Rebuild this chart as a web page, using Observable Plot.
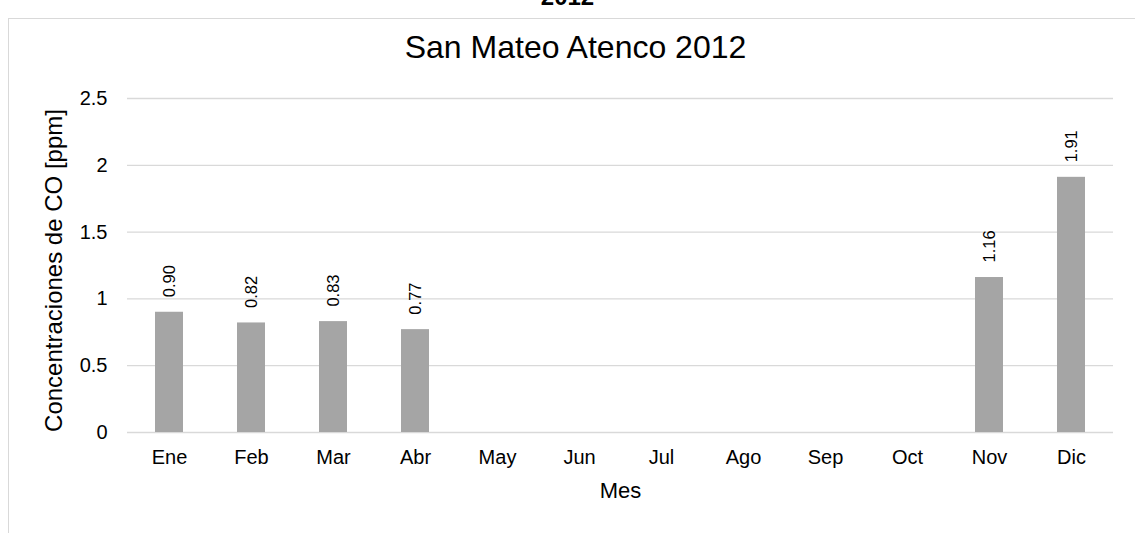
<!DOCTYPE html>
<html>
<head>
<meta charset="utf-8">
<script src="https://cdn.jsdelivr.net/npm/d3@7"></script>
<script src="https://cdn.jsdelivr.net/npm/@observablehq/plot@0.6"></script>
<style>
  html, body { margin: 0; padding: 0; background: #fff; overflow: hidden; }
  body { width: 1135px; height: 533px; position: relative; font-family: "Liberation Sans", Arial, sans-serif; }
  #frame { position: absolute; left: 8px; top: 18px; width: 1200px; height: 600px; border-left: 1px solid #d9d9d9; border-top: 1px solid #d9d9d9; }
  #cut { position: absolute; left: 0; width: 1135px; top: -17px; line-height: normal; text-align: center; font-weight: bold; font-size: 24px; color: #000; }
  #chart { position: absolute; left: 0; top: 0; }
</style>
</head>
<body>
<div id="cut">2012</div>
<div id="frame"></div>
<div id="chart"></div>
<script>
const months = ["Ene","Feb","Mar","Abr","May","Jun","Jul","Ago","Sep","Oct","Nov","Dic"];
const values = [0.90, 0.82, 0.83, 0.77, null, null, null, null, null, null, 1.16, 1.91];
const yTicks = [0, 0.5, 1, 1.5, 2, 2.5];
const titleText = "San Mateo Atenco 2012";
const xLabel = "Mes";
const yLabel = "Concentraciones de CO [ppm]";

const data = months.map((m, i) => ({month: m, value: values[i]})).filter(d => d.value != null);

const chart = Plot.plot({
  width: 1135,
  height: 533,
  marginLeft: 127,
  marginRight: 22,
  marginTop: 98,
  marginBottom: 101,
  style: {fontFamily: "'Liberation Sans', Arial, sans-serif", fontSize: "20px", color: "#000", background: "transparent"},
  x: {domain: months, paddingInner: 0.66, paddingOuter: 0.33, label: null},
  y: {domain: [0, 2.5], label: null},
  marks: [
    Plot.gridY(yTicks, {stroke: "#d9d9d9", strokeOpacity: 1, strokeWidth: 1.3}),
    Plot.barY(data, {x: "month", y: "value", fill: "#a5a5a5"}),
    Plot.text(data, {x: "month", y: "value", text: d => d.value.toFixed(2), rotate: -90, textAnchor: "start", lineAnchor: "middle", dy: -15, fontSize: 16.5, fill: "#000"}),
    Plot.axisX({tickSize: 0, tickPadding: 17, fontSize: 20, label: null}),
    Plot.axisY(yTicks, {tickSize: 0, tickPadding: 20, fontSize: 20, label: null, tickFormat: d => String(d)}),
    Plot.text([xLabel], {frameAnchor: "bottom", lineAnchor: "middle", dy: 58, fontSize: 22, fill: "#000"}),
    Plot.text([yLabel], {frameAnchor: "left", textAnchor: "middle", dx: -73, dy: 5, rotate: -90, fontSize: 24, fill: "#000"}),
    Plot.text([titleText], {frameAnchor: "top", textAnchor: "middle", dx: -45, dy: -63, fontSize: 32, fill: "#000"})
  ]
});
document.getElementById("chart").appendChild(chart);
</script>
</body>
</html>
